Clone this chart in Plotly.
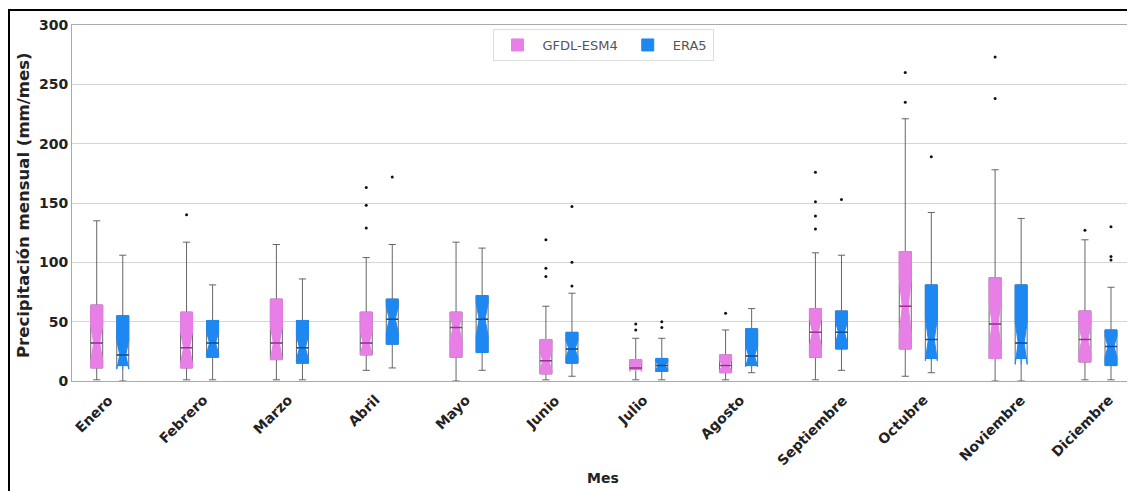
import plotly.graph_objects as go

months = ["Enero", "Febrero", "Marzo", "Abril", "Mayo", "Junio", "Julio",
          "Agosto", "Septiembre", "Octubre", "Noviembre", "Diciembre"]

# GFDL-ESM4 box statistics (mm/mes)
gfdl_q1 = [11, 11, 18, 22, 20, 6, 10, 7, 20, 27, 19, 16]
gfdl_med = [32, 28, 32, 32, 45, 17, 11, 13, 41, 63, 48, 35]
gfdl_q3 = [64, 58, 69, 58, 58, 35, 18, 22, 61, 109, 87, 59]
gfdl_low = [1, 1, 1, 9, 0, 1, 1, 1, 1, 4, 0, 1]
gfdl_high = [135, 117, 115, 104, 117, 63, 36, 43, 108, 221, 178, 119]
gfdl_notch = [15, 13, 14, 10, 11, 8, 3, 4, 12, 23, 19, 12]
gfdl_out = [[], [140], [], [129, 148, 163], [], [88, 95, 119], [43, 48], [57],
            [128, 139, 151, 176], [235, 260], [238, 273], [127]]

# ERA5 box statistics (mm/mes)
era_q1 = [13, 20, 15, 31, 24, 15, 8, 13, 27, 19, 19, 13]
era_med = [22, 32, 28, 52, 52, 27, 13, 21, 41, 35, 32, 29]
era_q3 = [55, 51, 51, 69, 72, 41, 19, 44, 59, 81, 81, 43]
era_low = [0, 1, 1, 11, 9, 4, 1, 7, 9, 7, 0, 1]
era_high = [106, 81, 86, 115, 112, 74, 36, 61, 106, 142, 137, 79]
era_notch = [12, 9, 10, 11, 14, 7, 3, 9, 9, 18, 18, 9]
era_out = [[], [], [], [172], [], [80, 100, 147], [45, 50], [],
           [153], [189], [], [102, 105, 130]]

series = [
    ("GFDL-ESM4", "#E77FE6", "#9B2C98", gfdl_q1, gfdl_med, gfdl_q3, gfdl_low, gfdl_high, gfdl_notch, gfdl_out),
    ("ERA5", "#1E88F2", "#0B4F9E", era_q1, era_med, era_q3, era_low, era_high, era_notch, era_out),
]

fig = go.Figure()
for name, color, dark, q1, med, q3, lo, hi, notch, outs in series:
    grp = name
    # layer 1: gray whiskers + outliers
    samples = [o if o else [None] for o in outs]
    fig.add_trace(go.Box(
        name=name, x=months, y=samples, offsetgroup=grp, legendgroup=grp, showlegend=False,
        q1=q1, median=med, q3=q3, lowerfence=lo, upperfence=hi,
        fillcolor="rgba(0,0,0,0)",
        line=dict(color="rgba(85,85,85,0.9)", width=1),
        whiskerwidth=0.6,
        boxpoints="outliers", jitter=0, pointpos=0,
        marker=dict(color="#111111", size=3),
        hoverinfo="skip",
    ))
    # layer 2: coloured notched box without outline
    fig.add_trace(go.Box(
        name=name, x=months, offsetgroup=grp, legendgroup=grp, showlegend=True,
        q1=q1, median=med, q3=q3, lowerfence=q1, upperfence=q3,
        notchspan=notch, notched=True, notchwidth=0.25,
        fillcolor=color, line=dict(color=color, width=1),
        whiskerwidth=0, boxpoints=False,
    ))
    # layer 3: darker median line
    fig.add_trace(go.Box(
        name=name, x=months, offsetgroup=grp, legendgroup=grp, showlegend=False,
        q1=med, median=med, q3=med, lowerfence=med, upperfence=med,
        fillcolor="rgba(0,0,0,0)", line=dict(color=dark, width=1.5),
        whiskerwidth=0, boxpoints=False, hoverinfo="skip",
    ))

OFF = 8  # page body margin
W, H = 1135 - OFF, 491 - OFF
L, R, T, B = 72 - OFF, 2, 25 - OFF, 110
pw, ph = W - L - R, H - T - B

def px(xp):
    return (xp - OFF - L) / pw

def py(yp):
    return 1 - (yp - OFF - T) / ph

tick_annotations = [
    dict(text=f"<b>{m}</b>", x=m, xref="x", y=0, yref="paper",
         xanchor="center", yanchor="top", xshift=-16, yshift=-8,
         textangle=-45, showarrow=False,
         font=dict(size=14, family="DejaVu Sans", color="#222"))
    for m in months
]

fig.update_layout(
    width=W, height=H,
    margin=dict(l=L, r=R, t=T, b=B),
    paper_bgcolor="white", plot_bgcolor="white",
    boxmode="group", boxgap=0.42, boxgroupgap=0.54,
    font=dict(family="DejaVu Sans", color="#222"),
    showlegend=True,
    legend=dict(orientation="h", x=px(603), y=py(45), xanchor="center", yanchor="middle",
                bordercolor="#dddddd", borderwidth=1, bgcolor="white",
                font=dict(size=13, color="#555"), itemwidth=40),
    xaxis=dict(range=[-0.42, 11.39], showticklabels=False,
               showline=True, linecolor="#aaaaaa", linewidth=1, mirror=True,
               showgrid=False, ticks="", zeroline=False),
    yaxis=dict(range=[0, 300], dtick=50,
               tickfont=dict(size=14, family="DejaVu Sans", weight="bold", color="#222"),
               showline=True, linecolor="#aaaaaa", linewidth=1, mirror=True,
               showgrid=True, gridcolor="#d5d5d5", gridwidth=1, zeroline=False, ticks=""),
    annotations=tick_annotations + [
        dict(text="<b>Mes</b>", x=px(603), y=py(478), xref="paper", yref="paper",
             showarrow=False, font=dict(size=14), xanchor="center", yanchor="middle"),
        dict(text="<b>Precipitación mensual (mm/mes)</b>", x=px(23), y=py(205),
             xref="paper", yref="paper", showarrow=False, textangle=-90,
             font=dict(size=16.5), xanchor="center", yanchor="middle"),
    ],
    shapes=[
        dict(type="rect", xref="paper", yref="paper",
             x0=px(9), x1=px(1134), y0=py(520), y1=py(10),
             line=dict(color="black", width=2), fillcolor="rgba(0,0,0,0)"),
    ],
)

fig.write_html("out.html")
